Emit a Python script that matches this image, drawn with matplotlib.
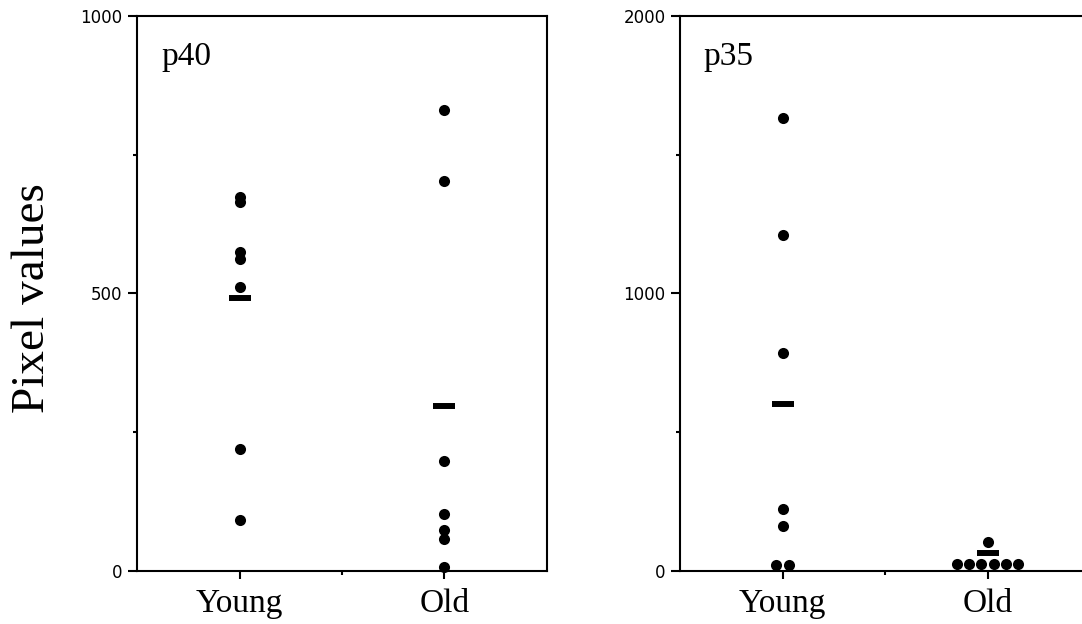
# plot.py
# Scatter of pixel values (p40, p35) for young vs old, with mean bars.

import numpy as np
import matplotlib
matplotlib.use("Agg")
import matplotlib.pyplot as plt
from matplotlib.ticker import MultipleLocator, FixedLocator


# ── Data ──────────────────────────────────────────────────────────────────────

groups = ["Young", "Old"]

p40_young = [674, 664, 574, 562, 511, 220, 91]
p40_old   = [830, 702, 197, 102, 73, 57, 6]
p40_means = [491, 297]

p35_young = [1632, 1212, 786, 223, 160, 22, 22]
p35_old   = [103, 25, 25, 25, 25, 25, 25]
p35_means = [601, 65]

SERIF = "Liberation Serif"
SANS  = "DejaVu Sans"

DOT_SPACING = 0.06    # horizontal spread for tied values, in category units


def _spread(values, spacing=DOT_SPACING):
    """Offsets that place tied values side by side, centred on the category."""
    values  = np.asarray(values, dtype=float)
    offsets = np.zeros(len(values))
    for v in np.unique(values):
        idx = np.where(values == v)[0]
        n   = len(idx)
        offsets[idx] = (np.arange(n) - (n - 1) / 2) * spacing
    return offsets


def draw_panel(ax, young, old, means, ymax, label):
    for i, vals in enumerate([young, old]):
        xs = (i + 1) + _spread(vals)
        ax.plot(xs, vals, "o", color="black", markersize=8,
                markeredgewidth=0, clip_on=False, zorder=3)
    ax.plot([1, 2], means, "_", color="black", markersize=15.8,
            markeredgewidth=4.3, zorder=3)

    ax.set_xlim(0.5, 2.5)
    ax.set_ylim(0, ymax)

    ax.xaxis.set_major_locator(FixedLocator([1, 2]))
    ax.xaxis.set_minor_locator(FixedLocator([1.5]))
    ax.set_xticklabels(groups, fontsize=24, family=SERIF)

    ax.yaxis.set_major_locator(MultipleLocator(ymax / 2))
    ax.yaxis.set_minor_locator(MultipleLocator(ymax / 4))
    ax.set_yticklabels([f"{int(v)}" for v in ax.get_yticks()],
                       fontsize=12, family=SANS)

    ax.tick_params(axis="x", which="major", direction="out", length=5.8,
                   width=1.5, pad=7)
    ax.tick_params(axis="x", which="minor", direction="out", length=3, width=1.5)
    ax.tick_params(axis="y", which="major", direction="out", length=6.5,
                   width=1.5, pad=4)
    ax.tick_params(axis="y", which="minor", direction="out", length=3, width=1.5)
    ax.tick_params(top=False, right=False, which="both")

    for side in ax.spines.values():
        side.set_linewidth(1.5)

    ax.text(0.058, 0.912, label, transform=ax.transAxes, fontsize=24,
            family=SERIF, va="baseline", ha="left")


# ── Figure ─────────────────────────────────────────────────────────────────────

fig = plt.figure(figsize=(10.82, 6.24), dpi=100)

ax1 = fig.add_axes([137.3 / 1082, 53.3 / 624, 409.4 / 1082, 554.7 / 624])
ax2 = fig.add_axes([680 / 1082, 53.3 / 624, 410 / 1082, 554.7 / 624])

draw_panel(ax1, p40_young, p40_old, p40_means, 1000, "p40")
draw_panel(ax2, p35_young, p35_old, p35_means, 2000, "p35")

# right panel runs off the edge of the page: no right-hand frame line
ax2.spines["right"].set_visible(False)

fig.text(11 / 1082, 0.522, "Pixel values", rotation=90, fontsize=34,
         family=SERIF, ha="left", va="center")

fig.savefig("out.png", dpi=100)
